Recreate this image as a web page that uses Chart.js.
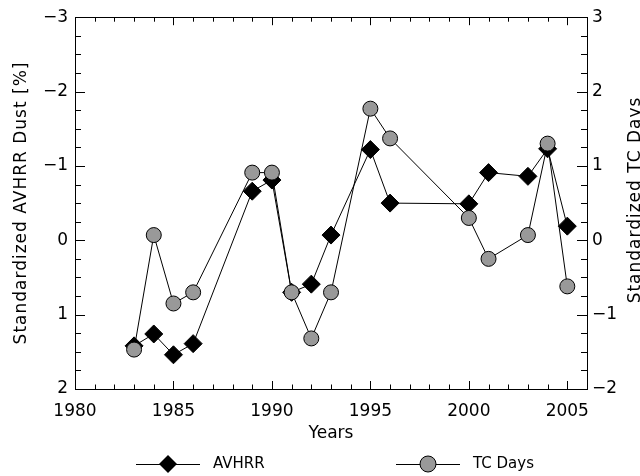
<!DOCTYPE html>
<html>
<head>
<meta charset="utf-8">
<script src="https://cdn.jsdelivr.net/npm/chart.js@4/dist/chart.umd.min.js"></script>
<style>
  html, body { margin: 0; padding: 0; background: #fff; }
</style>
</head>
<body>
<canvas id="chart" width="640" height="476"></canvas>
<script>
// data
var years = [1983, 1984, 1985, 1986, 1989, 1990, 1991, 1992, 1993, 1995, 1996, 2000, 2001, 2003, 2004, 2005];
var avhrrDust = [1.42, 1.26, 1.54, 1.39, -0.66, -0.81, 0.70, 0.59, -0.07, -1.22, -0.50, -0.49, -0.91, -0.86, -1.23, -0.19];
var tcDays = [-1.47, 0.07, -0.85, -0.70, 0.91, 0.91, -0.70, -1.32, -0.70, 1.77, 1.37, 0.30, -0.25, 0.07, 1.30, -0.62];
var xTicks = [1980, 1985, 1990, 1995, 2000, 2005];
var leftTicks = [-3, -2, -1, 0, 1, 2];
var rightTicks = [-2, -1, 0, 1, 2, 3];

var FONT = '"DejaVu Sans", sans-serif';

function fmt(v) {
    return v < 0 ? '\u2212' + (-v) : '' + v;
}

function pts(ys) {
    var out = [];
    for (var i = 0; i < years.length; i++) out.push({x: years[i], y: ys[i]});
    return out;
}

// frame, inward ticks, titles and legend
var decor = {
    id: 'decor',
    afterDraw: function(chart) {
        var ctx = chart.ctx, a = chart.chartArea;
        var sx = chart.scales.x, sl = chart.scales.y, sr = chart.scales.y2;
        ctx.save();
        ctx.strokeStyle = '#000';
        ctx.lineWidth = 1;
        ctx.strokeRect(Math.round(a.left) + 0.5, Math.round(a.top) + 0.5,
                       Math.round(a.right - a.left), Math.round(a.bottom - a.top));
        ctx.beginPath();
        // x ticks, bottom and top
        for (var yr = 1980; yr <= 2006; yr++) {
            var px = Math.round(sx.getPixelForValue(yr)) + 0.5;
            var len = (yr % 5 === 0) ? 8 : 4.5;
            ctx.moveTo(px, a.bottom); ctx.lineTo(px, a.bottom - len);
            ctx.moveTo(px, a.top); ctx.lineTo(px, a.top + len);
        }
        // y ticks, left and right
        for (var k = 0; k <= 20; k++) {
            var v = -3 + k * 0.25;
            var lenY = (k % 4 === 0) ? 10 : 6;
            var py = Math.round(sl.getPixelForValue(v)) + 0.5;
            ctx.moveTo(a.left, py); ctx.lineTo(a.left + lenY, py);
            var w = -2 + k * 0.25;
            var pr = Math.round(sr.getPixelForValue(w)) + 0.5;
            ctx.moveTo(a.right, pr); ctx.lineTo(a.right - lenY, pr);
        }
        ctx.stroke();

        // axis titles
        ctx.fillStyle = '#000';
        ctx.font = '17px ' + FONT;
        ctx.textAlign = 'center';
        ctx.textBaseline = 'middle';
        ctx.fillText('Years', (a.left + a.right) / 2, 434);
        ctx.letterSpacing = '1px';
        ctx.textBaseline = 'alphabetic';
        ctx.save();
        ctx.translate(26, 203);
        ctx.rotate(-Math.PI / 2);
        ctx.fillText('Standardized AVHRR Dust [%]', 0, 0);
        ctx.restore();
        ctx.save();
        ctx.translate(640, 200);
        ctx.rotate(-Math.PI / 2);
        ctx.fillText('Standardized TC Days', 0, 0);
        ctx.restore();
        ctx.letterSpacing = '0px';

        // legend
        var ly = 464;
        ctx.beginPath();
        ctx.moveTo(136, ly + 0.5); ctx.lineTo(200, ly + 0.5);
        ctx.moveTo(396, ly + 0.5); ctx.lineTo(460, ly + 0.5);
        ctx.stroke();
        ctx.beginPath();
        ctx.moveTo(168 - 9, ly); ctx.lineTo(168, ly - 9); ctx.lineTo(168 + 9, ly); ctx.lineTo(168, ly + 9);
        ctx.closePath();
        ctx.fillStyle = '#000';
        ctx.fill();
        ctx.beginPath();
        ctx.arc(428, ly, 8, 0, Math.PI * 2);
        ctx.fillStyle = '#999';
        ctx.fill();
        ctx.stroke();
        ctx.fillStyle = '#000';
        ctx.textAlign = 'left';
        ctx.textBaseline = 'middle';
        ctx.font = '15px ' + FONT;
        ctx.fillText('AVHRR', 213, ly);
        ctx.fillText('TC Days', 473, ly);
        ctx.restore();
    }
};

var ctx = document.getElementById('chart').getContext('2d');
var chart = new Chart(ctx, {
    type: 'line',
    data: {
        datasets: [
            {
                label: 'TC Days',
                data: pts(tcDays),
                yAxisID: 'y2',
                borderColor: '#000',
                borderWidth: 1,
                pointStyle: 'circle',
                pointRadius: 7.5,
                pointBackgroundColor: '#999',
                pointBorderColor: '#000',
                pointBorderWidth: 1,
                order: 0
            },
            {
                label: 'AVHRR',
                data: pts(avhrrDust),
                yAxisID: 'y',
                borderColor: '#000',
                borderWidth: 1,
                pointStyle: 'rectRot',
                pointRadius: 9,
                pointBackgroundColor: '#000',
                pointBorderColor: '#000',
                pointBorderWidth: 1,
                order: 1
            }
        ]
    },
    options: {
        responsive: false,
        animation: false,
        devicePixelRatio: 1,
        layout: { padding: { top: 11, left: 0, right: 0, bottom: 0 } },
        plugins: { legend: { display: false }, tooltip: { enabled: false } },
        scales: {
            x: {
                type: 'linear',
                position: 'bottom',
                min: 1980,
                max: 2006,
                afterBuildTicks: function(s) { s.ticks = xTicks.map(function(v) { return {value: v}; }); },
                afterFit: function(s) { s.height = 87; },
                grid: { display: false, drawTicks: false },
                border: { display: false },
                ticks: { color: '#000', font: { family: FONT, size: 17 }, padding: 12, maxRotation: 0,
                         callback: function(v) { return '' + v; } }
            },
            y: {
                position: 'left',
                reverse: true,
                min: -3,
                max: 2,
                afterBuildTicks: function(s) { s.ticks = leftTicks.map(function(v) { return {value: v}; }); },
                afterFit: function(s) { s.width = 75; },
                grid: { display: false, drawTicks: false },
                border: { display: false },
                ticks: { color: '#000', font: { family: FONT, size: 17 }, padding: 7, callback: fmt }
            },
            y2: {
                position: 'right',
                min: -2,
                max: 3,
                afterBuildTicks: function(s) { s.ticks = rightTicks.map(function(v) { return {value: v}; }); },
                afterFit: function(s) { s.width = 53; },
                grid: { display: false, drawTicks: false },
                border: { display: false },
                ticks: { color: '#000', font: { family: FONT, size: 17 }, padding: 5, callback: fmt }
            }
        }
    },
    plugins: [decor]
});
</script>
</body>
</html>
